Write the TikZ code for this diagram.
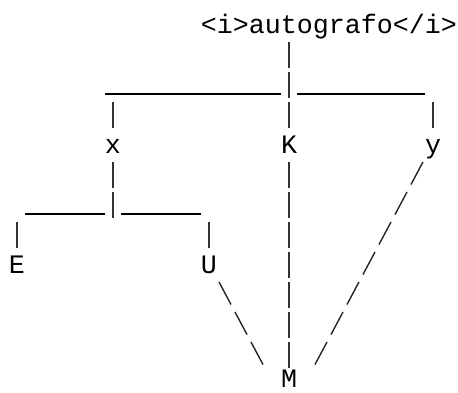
\documentclass[tikz,border=0pt]{standalone}
\usepackage{fontspec}
\setmonofont{Liberation Mono}
\usepackage{tikz}
\usetikzlibrary{calc}

\begin{document}
\begin{tikzpicture}[x=16pt,y=-30pt,
  leaf/.style={anchor=base,inner sep=0pt,font=\ttfamily\fontsize{26.67pt}{30pt}\selectfont},
  bar/.style={line width=1.6pt,black!80,dash pattern=on 26pt off 4pt},
  rule/.style={line width=1.3pt,black},
  slant/.style={line width=1.4pt,black!85,dash pattern=on 25.5pt off 8.5pt}]
\useasboundingbox (-1.0625,-1.1) rectangle (27.5625,11.9667);
% labels: one column = 1 unit right, one text row = 1 unit down
\node[leaf] (root) at (19.5,0) {<i>autografo</i>};
\node[leaf] (lx) at (6,4) {x};
\node[leaf] (lK) at (17,4) {K};
\node[leaf] (ly) at (26,4) {y};
\node[leaf] (lE) at (0,8) {E};
\node[leaf] (lU) at (12,8) {U};
\node[leaf] (lM) at (17,11.82) {M};
% junctions
\coordinate (top) at (17,2);
\coordinate (low) at (6,6);
% root down to the top junction
\draw[bar] ($(root.base -| top)+(0,0.3)$) -- ($(top)+(0,0.1667)$);
% top junction out to x, K, y
\draw[rule] ($(top)+(-0.5,0.033)$) -- ($(top -| lx.base)+(-0.5,0.033)$);
\draw[bar] ($(lx.base)+(0,-1.7)$) -- ($(lx.base)+(0,-0.8333)$);
\draw[bar] ($(top)+(0,0.3)$) -- ($(lK.base)+(0,-0.8333)$);
\draw[rule] ($(top)+(0.5,0.033)$) -- ($(top -| ly.base)+(-0.5,0.033)$);
\draw[bar] ($(ly.base)+(0,-1.7)$) -- ($(ly.base)+(0,-0.8333)$);
% x down to the lower junction, then E and U
\draw[bar] ($(lx.base)+(0,0.3)$) -- ($(low)+(0,0.1667)$);
\draw[rule] ($(low)+(-0.5,0.033)$) -- ($(low -| lE.base)+(0.5,0.033)$);
\draw[bar] ($(lE.base)+(0,-1.7)$) -- ($(lE.base)+(0,-0.8333)$);
\draw[rule] ($(low)+(0.5,0.033)$) -- ($(low -| lU.base)+(-0.5,0.033)$);
\draw[bar] ($(lU.base)+(0,-1.7)$) -- ($(lU.base)+(0,-0.8333)$);
% U, K and y all meet at M
\draw[bar] ($(lK.base)+(0,0.3)$) -- ($(lM.base)+(0,-0.6533)$);
\draw[slant] ($(lU.base)+(0.625,0.3)$) -- ($(lM.base)+(-1.625,-0.77)$);
\draw[slant] ($(ly.base)+(-0.625,0.3)$) -- ($(lM.base)+(1.625,-0.77)$);
\end{tikzpicture}
\end{document}
